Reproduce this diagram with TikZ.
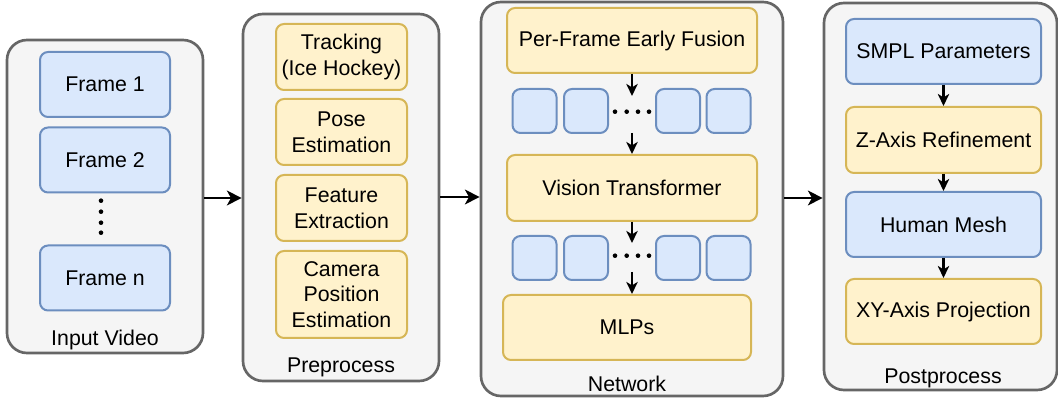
\documentclass[tikz,border=0pt]{standalone}
\usepackage{fontspec}
\setmainfont{Liberation Sans}
\usetikzlibrary{arrows.meta}
\definecolor{bluefill}{HTML}{DAE8FC}
\definecolor{blueline}{HTML}{6C8EBF}
\definecolor{yelfill}{HTML}{FFF2CC}
\definecolor{yelline}{HTML}{D6B656}
\definecolor{grpfill}{HTML}{F5F5F5}
\definecolor{grpline}{HTML}{666666}
\begin{document}
\begin{tikzpicture}[x=0.75pt,y=-0.75pt,
  font=\fontsize{16}{19.3}\selectfont,
  group/.style={draw=grpline,fill=grpfill,line width=2pt,rounded corners=15pt,inner sep=0pt},
  box/.style={line width=1.5pt,rounded corners=6pt,inner sep=0pt,align=center},
  bluebox/.style={box,draw=blueline,fill=bluefill},
  yelbox/.style={box,draw=yelline,fill=yelfill},
  token/.style={bluebox,minimum width=33pt,minimum height=33pt},
  arr/.style={-{Stealth[length=11pt,width=11pt,inset=3pt]},line width=2.2pt},
  sarr/.style={-{Stealth[length=9pt,width=8.5pt,inset=2.5pt]},line width=1.6pt}]
\useasboundingbox (0,0) rectangle (1058,402);

% the four stages
\node[group,minimum width=147pt,minimum height=234.75pt] (in) at (105,196.5) {};
\node[group,minimum width=147pt,minimum height=275.25pt] (pre) at (341,197.5) {};
\node[group,minimum width=226.5pt,minimum height=295.5pt] (net) at (632,199) {};
\node[group,minimum width=174.75pt,minimum height=290.25pt] (post) at (940.5,196.5) {};

\node (inlbl) at (105,340) {Input Video};
\node (prelbl) at (341,367) {Preprocess};
\node (netlbl) at (627,384) {Network};
\node (postlbl) at (943,378) {Postprocess};

% input video
\node[bluebox,minimum width=97.5pt,minimum height=48.75pt] (f1) at (105,84.5) {Frame 1};
\node[bluebox,minimum width=97.5pt,minimum height=48.75pt] (f2) at (105,160) {Frame 2};
\node[bluebox,minimum width=97.5pt,minimum height=48.75pt] (fn) at (105,278) {Frame n};
\foreach \y in {200.7,211.7,222.7,232.7}
  \fill (101,\y) circle[radius=2.3];

% preprocess
\node[yelbox,minimum width=98.25pt,minimum height=49.5pt] (track) at (341.5,57) {Tracking\\(Ice Hockey)};
\node[yelbox,minimum width=98.25pt,minimum height=49.5pt] (pose) at (341.5,132) {Pose\\Estimation};
\node[yelbox,minimum width=98.25pt,minimum height=49.5pt] (feat) at (341.5,208) {Feature\\Extraction};
\node[yelbox,minimum width=98.25pt,minimum height=65.25pt] (cam) at (341.5,294.5) {Camera\\Position\\Estimation};

% network
\node[yelbox,minimum width=187.5pt,minimum height=48.75pt] (ef) at (632,40.5) {Per-Frame Early Fusion};
\node[yelbox,minimum width=187.5pt,minimum height=49.5pt] (vt) at (632,188) {Vision Transformer};
\node[yelbox,minimum width=186pt,minimum height=48.75pt] (mlp) at (627,327.5) {MLPs};
\foreach \x [count=\i] in {534.5,586,678,728.5} {
  \node[token] (ta\i) at (\x,111) {};
  \node[token] (tb\i) at (\x,258) {};
}
\foreach \x in {615,626.7,638,649} {
  \fill (\x,111.7) circle[radius=2.3];
  \fill (\x,255.7) circle[radius=2.3];
}
\coordinate (t1) at (632,96);
\coordinate (s1) at (632,133);
\coordinate (t2) at (632,243);
\coordinate (s2) at (632,272);
\draw[sarr] (ef) -- (t1);
\draw[sarr] (s1) -- (vt);
\draw[sarr] (vt) -- (t2);
\draw[sarr] (s2) -- (s2 |- mlp.north);

% postprocess
\node[bluebox,minimum width=146.25pt,minimum height=48.75pt] (smpl) at (943.5,51.5) {SMPL Parameters};
\node[yelbox,minimum width=146.25pt,minimum height=49.5pt] (zax) at (943.5,140) {Z-Axis Refinement};
\node[bluebox,minimum width=146.25pt,minimum height=48.75pt] (mesh) at (943.5,224.5) {Human Mesh};
\node[yelbox,minimum width=146.25pt,minimum height=48.75pt] (xy) at (943.5,311.5) {XY-Axis Projection};
\draw[sarr] (smpl) -- (zax);
\draw[sarr] (zax) -- (mesh);
\draw[sarr] (mesh) -- (xy);

% stage to stage
\draw[arr] (in.east |- 0,198) -- (pre.west |- 0,198);
\draw[arr] (pre.east |- 0,197) -- (net.west |- 0,197);
\draw[arr] (net.east |- 0,198) -- (post.west |- 0,198);
\end{tikzpicture}
\end{document}
